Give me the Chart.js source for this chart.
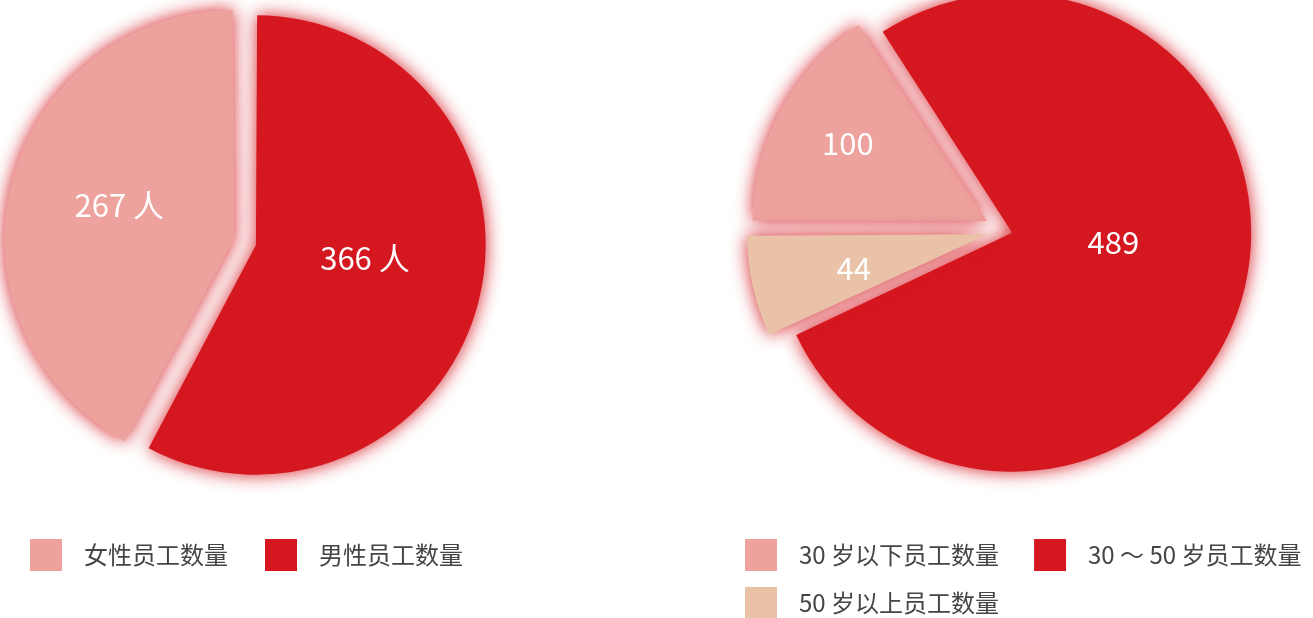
<!DOCTYPE html>
<html><head><meta charset="utf-8">
<script src="https://cdn.jsdelivr.net/npm/chart.js@4/dist/chart.umd.min.js"></script>
<style>
html,body{margin:0;padding:0;width:1313px;height:618px;overflow:hidden;background:#fff;}
#left{position:absolute;left:-7px;top:0;width:520px;height:577px;}
#right{position:absolute;left:710px;top:0;width:700px;height:625px;}
</style></head><body>
<div id="left"><canvas id="c1" width="520" height="577"></canvas></div>
<div id="right"><canvas id="c2" width="700" height="625"></canvas></div>
<script>
// ---- data ----
const genderLabels = ['女性员工数量', '男性员工数量'];
const genderValues = [267, 366];
const genderUnit = ' 人';
const ageLabels = ['30 岁以下员工数量', '30 ～ 50 岁员工数量', '50 岁以上员工数量'];
const ageValues = [100, 489, 44];

// ---- style ----
const PINK = '#EDA29D', RED = '#D5171F', BEIGE = '#E9C2A7';
const FONT = '"Noto Sans CJK SC", "Noto Sans", sans-serif';
Chart.defaults.font.family = FONT;

function legendIcon(color, lead) {
  const c = document.createElement('canvas');
  c.width = lead + 42; c.height = 32;
  const g = c.getContext('2d');
  g.fillStyle = color;
  g.fillRect(lead, 0, 32, 32);
  return c;
}

const centerPlugin = {
  id: 'pieCenter',
  afterLayout(chart, args, o) {
    const a = chart.chartArea, w = a.width, h = a.height;
    a.left = o.x - w / 2; a.right = o.x + w / 2;
    a.top = o.y - h / 2; a.bottom = o.y + h / 2;
  }
};
const shadowPlugin = {
  id: 'sliceShadow',
  beforeDatasetsDraw(chart, args, o) {
    const c = chart.ctx; c.save();
    c.shadowColor = o.color; c.shadowBlur = o.blur;
    c.shadowOffsetX = 0; c.shadowOffsetY = 0;
  },
  afterDatasetsDraw(chart) { chart.ctx.restore(); }
};
const labelPlugin = {
  id: 'sliceLabels',
  afterDatasetsDraw(chart, args, o) {
    const ctx = chart.ctx, meta = chart.getDatasetMeta(0);
    ctx.save();
    ctx.font = o.font; ctx.fillStyle = o.color;
    ctx.textAlign = 'center'; ctx.textBaseline = 'middle';
    meta.data.forEach((arc, i) => {
      const p = arc.getProps(['x', 'y', 'startAngle', 'endAngle', 'outerRadius'], true);
      const shift = (arc.options.offset || 0) / 4;
      const mid = (p.startAngle + p.endAngle) / 2;
      const ang = mid + (o.angleShift[i] || 0) * Math.PI / 180;
      const r = o.radius[i] * p.outerRadius;
      const tx = p.x + Math.cos(mid) * shift + Math.cos(ang) * r;
      const ty = p.y + Math.sin(mid) * shift + Math.sin(ang) * r;
      ctx.fillText(o.texts[i], tx, ty);
    });
    ctx.restore();
  }
};

function makePie(id, labels, values, colors, cfg) {
  const total = values.reduce((a, b) => a + b, 0);
  return new Chart(document.getElementById(id), {
    type: 'pie',
    data: {
      labels: labels,
      datasets: [{
        data: values,
        backgroundColor: colors,
        borderWidth: 0,
        offset: cfg.offsets,
        hoverOffset: 0,
        clip: false
      }]
    },
    options: {
      responsive: false,
      animation: false,
      events: [],
      radius: cfg.radius,
      rotation: cfg.rotation(values, total),
      plugins: {
        tooltip: { enabled: false },
        legend: {
          position: 'bottom',
          align: 'start',
          labels: {
            usePointStyle: true,
            pointStyleWidth: cfg.iconLead + 42,
            padding: cfg.legendPadding,
            color: '#454545',
            font: { family: FONT, size: 24 },
            generateLabels(chart) {
              const items = Chart.overrides.doughnut.plugins.legend.labels.generateLabels(chart);
              items.forEach(it => { it.pointStyle = legendIcon(it.fillStyle, cfg.iconLead); });
              return items;
            }
          }
        },
        pieCenter: cfg.center,
        sliceShadow: { color: 'rgba(212,22,32,0.95)', blur: 18 },
        sliceLabels: {
          font: '31px ' + FONT,
          color: '#ffffff',
          texts: cfg.texts(values),
          radius: cfg.labelRadius,
          angleShift: cfg.labelAngle
        }
      }
    },
    plugins: [centerPlugin, shadowPlugin, labelPlugin]
  });
}

makePie('c1', genderLabels, genderValues, [PINK, RED], {
  offsets: [59, 31],
  radius: 222,
  rotation: (v, t) => 360 - 360 * v[0] / t,
  iconLead: 13,
  legendPadding: 24,
  center: { x: 255.4, y: 243.1 },
  texts: v => v.map(n => n + genderUnit),
  labelRadius: [0.54, 0.495],
  labelAngle: [2.6, -7]
});

makePie('c2', ageLabels, ageValues, [PINK, RED, BEIGE], {
  offsets: [80, 32, 68],
  radius: 231,
  rotation: () => 270,
  iconLead: 11,
  legendPadding: 24,
  center: { x: 294.5, y: 230.5 },
  texts: v => v.map(n => String(n)),
  labelRadius: [0.69, 0.44, 0.60],
  labelAngle: [0.8, -10.7, -1.9]
});
</script>
</body></html>
